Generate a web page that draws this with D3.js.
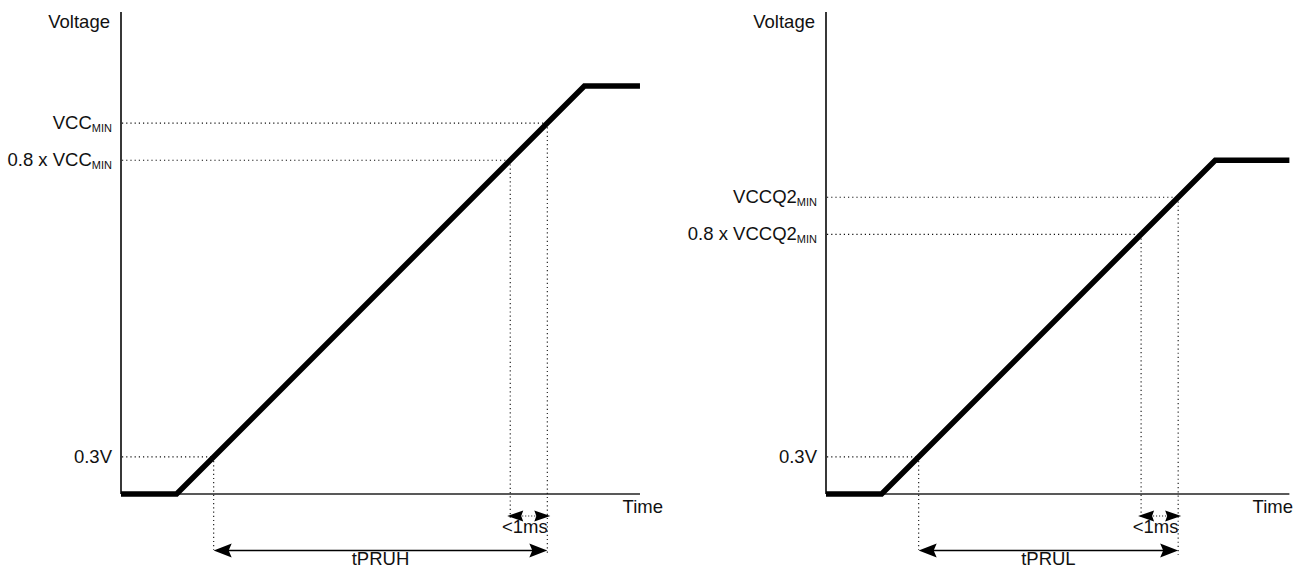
<!DOCTYPE html>
<html>
<head>
<meta charset="utf-8">
<script src="https://cdn.jsdelivr.net/npm/d3@7"></script>
<style>
  body { margin: 0; background: #fff; }
  svg text { font-family: "Liberation Sans", Arial, sans-serif; fill: #111; }
</style>
</head>
<body>
<div id="chart"></div>
<script>
// nominal values (time in arbitrary units, volts)
var panelNames = ["VCC", "VCCQ2"];
var timeMax = [14, 12.5];
var leftSignal = [[0, 0], [1.5, 0], [12.5, 3.3], [14, 3.3]];
var rightSignal = [[0, 0], [1.5, 0], [10.5, 2.7], [12.5, 2.7]];
var levelValues = [[0.3, 2.7, 3.0], [0.3, 2.1, 2.4]];
var crossTimes = [[2.5, 10.5, 11.5], [2.5, 8.5, 9.5]];
var levelLabels = [
  [["0.3V", ""], ["0.8 x VCC", "MIN"], ["VCC", "MIN"]],
  [["0.3V", ""], ["0.8 x VCCQ2", "MIN"], ["VCCQ2", "MIN"]]
];
var spanLabels = ["tPRUH", "tPRUL"];
var gapLabel = "<1ms";

var W = 1306, H = 569;
var svg = d3.select("#chart").append("svg").attr("width", W).attr("height", H);

var originX = [121, 826],
  pxPerUnit = 37.07,
  yBase = 494,
  yTop = 12,
  fs = 18.5;

var y = d3.scaleLinear().domain([0, 3.3]).range([yBase, 86]);

function arrowHead(g, tipX, tipY, dir, len, half, notchDepth) {
  // dir = -1 points left, 1 points right
  var back = tipX - dir * len, notch = tipX - dir * (len - notchDepth);
  g.append("path")
    .attr("d", "M" + tipX + "," + tipY + "L" + back + "," + (tipY - half) +
      "L" + notch + "," + tipY + "L" + back + "," + (tipY + half) + "Z")
    .attr("fill", "#000");
}

var signals = [leftSignal, rightSignal];

for (var p = 0; p < 2; p++) {
  var x0 = originX[p];
  var x = d3.scaleLinear().domain([0, timeMax[p]]).range([x0, x0 + timeMax[p] * pxPerUnit]);
  var g = svg.append("g").attr("class", "panel panel-" + panelNames[p]);

  // axes (plain lines, no ticks)
  g.append("line").attr("x1", x0).attr("x2", x0).attr("y1", yTop).attr("y2", yBase)
    .attr("stroke", "#222").attr("stroke-width", 1.8);
  g.append("line").attr("x1", x0).attr("x2", x(timeMax[p])).attr("y1", yBase).attr("y2", yBase)
    .attr("stroke", "#222").attr("stroke-width", 1.4);

  g.append("text").attr("x", x0 - 11).attr("y", 28).attr("text-anchor", "end")
    .attr("font-size", fs).text("Voltage");
  g.append("text").attr("x", p == 0 ? 663 : 1293).attr("y", 513).attr("text-anchor", "end")
    .attr("font-size", fs).text("Time");

  // dotted guides
  var vBottoms = [550, 518, 555];
  for (var i = 0; i < 3; i++) {
    var v = levelValues[p][i], t = crossTimes[p][i];
    g.append("line").attr("x1", x0 + 1).attr("x2", x(t)).attr("y1", y(v)).attr("y2", y(v))
      .attr("stroke", "#111").attr("stroke-width", 1.1).attr("stroke-dasharray", "1.2,3");
    g.append("line").attr("x1", x(t)).attr("x2", x(t)).attr("y1", y(v)).attr("y2", vBottoms[i])
      .attr("stroke", "#111").attr("stroke-width", 1.1).attr("stroke-dasharray", "1.2,3");

    var lab = g.append("text").attr("x", x0 - 9).attr("y", y(v) + 6)
      .attr("text-anchor", "end").attr("font-size", fs);
    lab.append("tspan").text(levelLabels[p][i][0]);
    if (levelLabels[p][i][1]) {
      lab.append("tspan").attr("font-size", 11).attr("dy", 3).text(levelLabels[p][i][1]);
    }
  }

  // the supply ramp
  var line = d3.line().x(function(d) { return x(d[0]); }).y(function(d) { return y(d[1]); });
  g.append("path").datum(signals[p]).attr("d", line)
    .attr("fill", "none").attr("stroke", "#000").attr("stroke-width", 5.5)
    .attr("stroke-linejoin", "miter");

  // tPRU span arrow
  var xa = x(crossTimes[p][0]), xb = x(crossTimes[p][2]), ya = 550.5;
  g.append("line").attr("x1", xa + 8).attr("x2", xb - 8).attr("y1", ya).attr("y2", ya)
    .attr("stroke", "#000").attr("stroke-width", 1.4);
  arrowHead(g, xa, ya, -1, 18, 7, 3);
  arrowHead(g, xb, ya, 1, 18, 7, 3);
  g.append("text").attr("x", (xa + xb) / 2).attr("y", 565).attr("text-anchor", "middle")
    .attr("font-size", fs).text(spanLabels[p]);

  // <1ms gap arrow
  var xc = x(crossTimes[p][1]), xd = x(crossTimes[p][2]), yc = 516;
  g.append("line").attr("x1", xc + 12).attr("x2", xd - 12).attr("y1", yc).attr("y2", yc)
    .attr("stroke", "#111").attr("stroke-width", 1.1).attr("stroke-dasharray", "1,2");
  arrowHead(g, xc - 3, yc, -1, 16, 5.5, 2);
  arrowHead(g, xd + 3, yc, 1, 16, 5.5, 2);
  g.append("text").attr("x", (xc + xd) / 2 - 4).attr("y", 533).attr("text-anchor", "middle")
    .attr("font-size", fs).text(gapLabel);
}
</script>
</body>
</html>
